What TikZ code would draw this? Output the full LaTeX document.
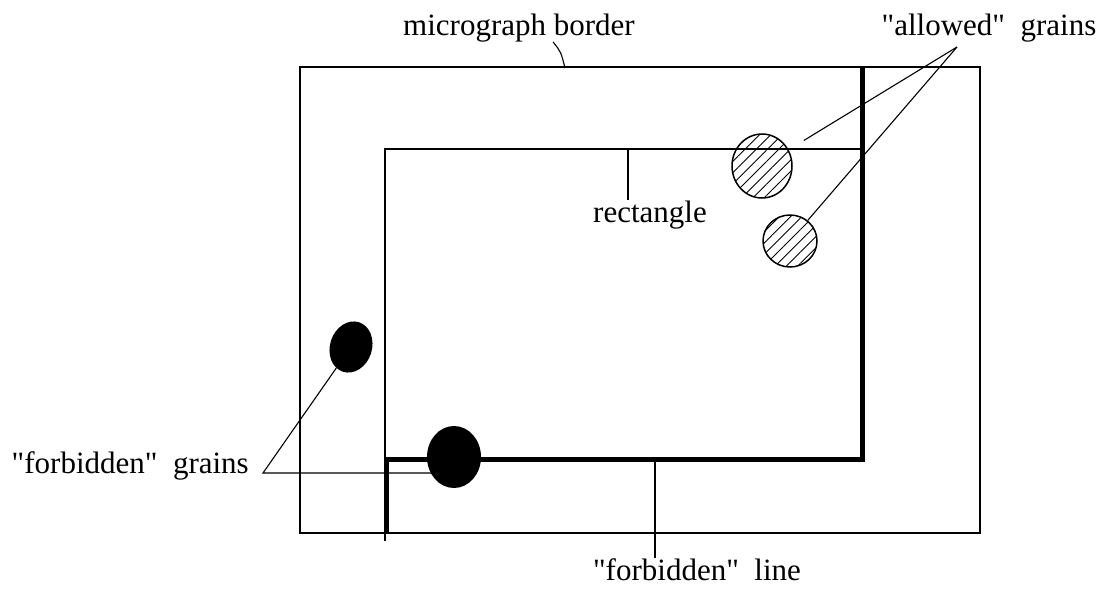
\documentclass[tikz,border=0pt]{standalone}
\usepackage{fontspec}
\setmainfont{Liberation Serif}
\usetikzlibrary{
  shapes.geometric,
  patterns.meta,
  positioning,
  calc
}
\tikzset{
  micro/.style={line width=2pt},
  rectln/.style={line width=1.8pt},
  forbidln/.style={line width=5pt, line join=miter},
  leader/.style={line width=1.1pt},
  lbl/.style={font=\fontsize{31}{36}\selectfont, inner sep=0pt},
  grainA/.style={
    ellipse, draw, line width=1.5pt, inner sep=0pt,
    pattern={Lines[angle=45,distance=8pt,line width=0.9pt]}
  },
  grainF/.style={
    ellipse, fill=black, inner sep=0pt
  }
}
\newcommand{\qq}{\textquotedbl}

\begin{document}
\begin{tikzpicture}[x=1pt,y=-1pt]
  \useasboundingbox (0,0) rectangle (1101,600);

  \coordinate (mtl) at (300,67);
  \coordinate (mbr) at (980,533);
  \draw[micro] (mtl) rectangle (mbr);

  \coordinate (rbl) at (385,541);
  \coordinate (rtl) at (385,149);
  \coordinate (rtr) at (862,149);
  \draw[rectln] (rbl) -- (rtl) -- (rtr);

  \coordinate (ftop) at (862,68);
  \coordinate (fcor) at (862,459);
  \coordinate (fleft) at (386,459);
  \coordinate (fbot) at (386,533);
  \draw[forbidln] (ftop) -- (fcor) -- (fleft) -- (fbot);

  \node[grainA, minimum width=60pt, minimum height=64pt] (ga1) at (762,166) {};
  \node[grainA, minimum width=54pt, minimum height=52pt] (ga2) at (790,241) {};
  \node[grainF, minimum width=42pt, minimum height=52pt, rotate=-18] (gf1) at (351,347) {};
  \node[grainF, minimum width=54pt, minimum height=62pt] (gf2) at (454,457) {};

  \node[lbl, anchor=base] (mb) at (519,35) {micrograph border};
  \node[lbl, anchor=base] (ag) at (989,35) {\qq allowed\qq\ \ grains};
  \node[lbl, anchor=base] (rc) at (650,222) {rectangle};
  \node[lbl, anchor=base east] (fg) at (249,473) {\qq forbidden\qq\ \ grains};
  \node[lbl, anchor=base] (fl) at (697,580) {\qq forbidden\qq\ \ line};

  \coordinate (mbpt) at (565,68);
  \draw[leader] ([xshift=34pt]mb.south) .. controls (561,52) .. (mbpt);

  \coordinate (rcpt) at (628,149);
  \draw[leader] (rcpt) -- (rcpt |- rc.north);

  \coordinate (aapex) at (957,47);
  \draw[leader, shorten >=18pt] (aapex) -- (ga1);
  \draw[leader] (aapex) -- (ga2);

  \coordinate (fapex) at (263,473);
  \draw[leader] (gf1) -- (fapex) -- (fapex -| gf2);

  \coordinate (flpt) at (655,459);
  \draw[leader] (flpt) -- (flpt |- fl.north);
\end{tikzpicture}
\end{document}
